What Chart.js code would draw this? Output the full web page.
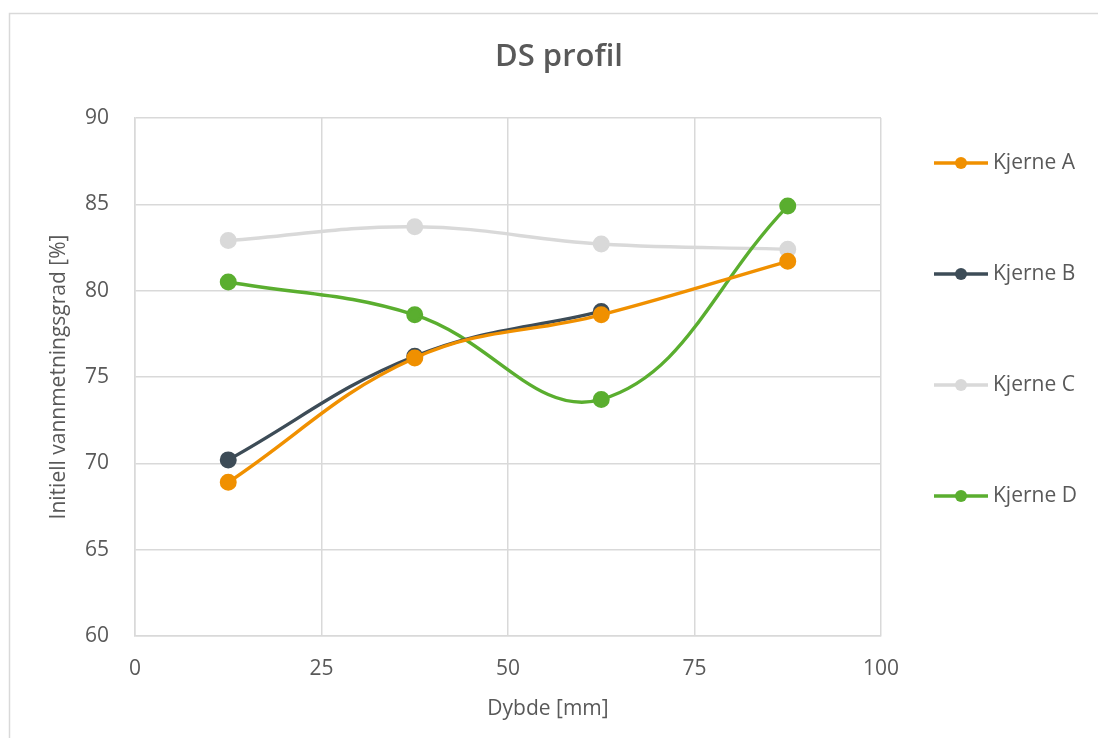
<!DOCTYPE html>
<html>
<head>
<meta charset="utf-8">
<script src="https://cdn.jsdelivr.net/npm/chart.js@4"></script>
<style>
  html, body { margin: 0; padding: 0; background: #fff; }
  #wrap { width: 1098px; height: 738px; position: relative; }
</style>
</head>
<body>
<div id="wrap"><canvas id="myChart" width="1098" height="738"></canvas></div>
<script>
// dybde (mm) og initiell vannmetningsgrad (%) per kjerne
var depths = [12.5, 37.5, 62.5, 87.5];
var kjerneA = [68.9, 76.1, 78.6, 81.7];
var kjerneB = [70.2, 76.2, 78.8];
var kjerneC = [82.9, 83.7, 82.7, 82.4];
var kjerneD = [80.5, 78.6, 73.7, 84.9];
var seriesNames = ['Kjerne A', 'Kjerne B', 'Kjerne C', 'Kjerne D'];
var seriesColors = ['#f09000', '#3d4c57', '#d9d9d9', '#5aae2f'];
var xTicks = [0, 25, 50, 75, 100];
var yTicks = [60, 65, 70, 75, 80, 85, 90];

var FONT = '"Open Sans", "Noto Sans", sans-serif';
var TEXT = '#595959';

function toPoints(vals) {
    return vals.map(function (v, i) {
        return { x: depths[i], y: v };
    });
}

var allSeries = [kjerneA, kjerneB, kjerneC, kjerneD];
var datasets = allSeries.map(function (vals, i) {
    return {
        label: seriesNames[i],
        data: toPoints(vals),
        borderColor: seriesColors[i],
        backgroundColor: seriesColors[i],
        pointBackgroundColor: seriesColors[i],
        pointBorderColor: seriesColors[i],
        borderWidth: 3.4,
        pointRadius: 6.8,
        pointHoverRadius: 6.8,
        tension: 0.4,
        fill: false
    };
});
// grey series sits behind the others
datasets[2].order = 4;

// frame, title, x title and right-hand legend
var decorations = {
    id: 'decorations',
    beforeDraw: function (chart) {
        var ctx = chart.ctx;
        ctx.save();
        ctx.strokeStyle = '#d9d9d9';
        ctx.lineWidth = 1.5;
        ctx.beginPath();
        ctx.moveTo(9.5, 760);
        ctx.lineTo(9.5, 13.5);
        ctx.lineTo(1120, 13.5);
        ctx.stroke();

        ctx.fillStyle = TEXT;
        ctx.textAlign = 'center';
        ctx.textBaseline = 'middle';
        ctx.font = '600 31px ' + FONT;
        ctx.fillText('DS profil', 559, 57);
        ctx.font = '21px ' + FONT;
        ctx.fillText('Dybde [mm]', 548, 709);
        ctx.restore();
    },
    afterDraw: function (chart) {
        var ctx = chart.ctx;
        ctx.save();
        chart.data.datasets.forEach(function (ds, i) {
            var y = 163 + i * 111;
            ctx.strokeStyle = ds.borderColor;
            ctx.lineWidth = 3.4;
            ctx.beginPath();
            ctx.moveTo(934, y);
            ctx.lineTo(988, y);
            ctx.stroke();
            ctx.fillStyle = ds.borderColor;
            ctx.beginPath();
            ctx.arc(961, y, 6, 0, Math.PI * 2);
            ctx.fill();
            ctx.fillStyle = TEXT;
            ctx.font = '21px ' + FONT;
            ctx.textAlign = 'left';
            ctx.textBaseline = 'middle';
            ctx.fillText(ds.label, 993, y);
        });
        ctx.restore();
    }
};

var ctx = document.getElementById('myChart').getContext('2d');
var chart = new Chart(ctx, {
    type: 'line',
    data: { datasets: datasets },
    options: {
        responsive: false,
        animation: false,
        layout: { padding: { top: 118, right: 217, left: 0, bottom: 0 } },
        plugins: {
            legend: { display: false },
            title: { display: false },
            tooltip: { enabled: false }
        },
        scales: {
            x: {
                type: 'linear',
                min: 0,
                max: 100,
                afterBuildTicks: function (scale) {
                    scale.ticks = xTicks.map(function (v) { return { value: v }; });
                },
                afterFit: function (scale) { scale.height = 102; },
                grid: { color: '#d9d9d9', lineWidth: 1.5, drawTicks: false },
                border: { color: '#d9d9d9', width: 1.5 },
                ticks: { color: TEXT, font: { family: FONT, size: 21 }, padding: 20 }
            },
            y: {
                min: 60,
                max: 90,
                afterBuildTicks: function (scale) {
                    scale.ticks = yTicks.map(function (v) { return { value: v }; });
                },
                afterFit: function (scale) { scale.width = 135; },
                grid: { color: '#d9d9d9', lineWidth: 1.5, drawTicks: false },
                border: { color: '#d9d9d9', width: 1.5 },
                ticks: { color: TEXT, font: { family: FONT, size: 21 }, padding: 26 },
                title: {
                    display: true,
                    text: 'Initiell vannmetningsgrad [%]',
                    color: TEXT,
                    font: { family: FONT, size: 21 },
                    padding: { top: 46, bottom: 0 }
                }
            }
        }
    },
    plugins: [decorations]
});
</script>
</body>
</html>
